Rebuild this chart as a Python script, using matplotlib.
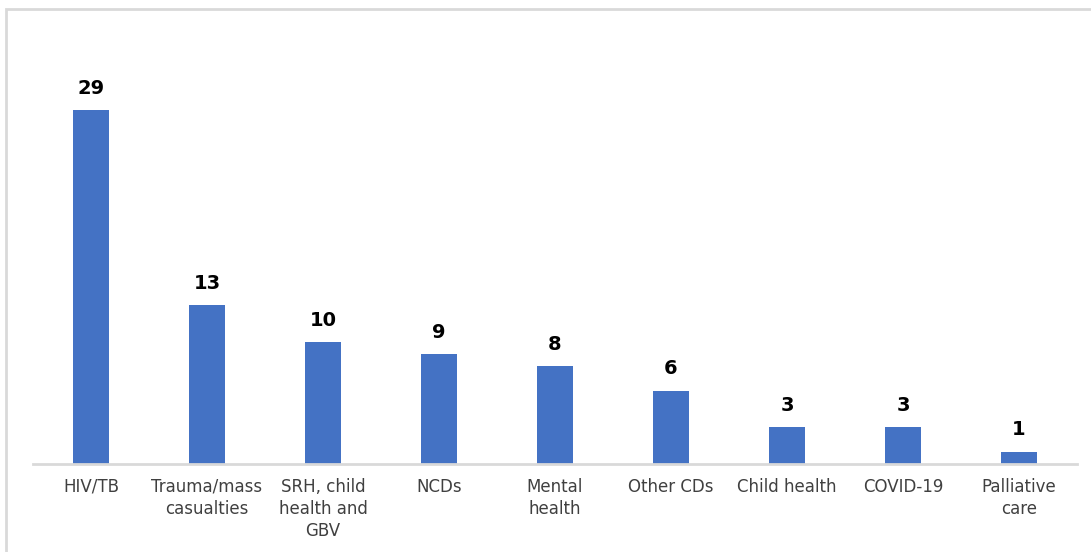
import matplotlib
matplotlib.use("Agg")
import matplotlib.pyplot as plt
from matplotlib.patches import Rectangle

categories = ["HIV/TB", "Trauma/mass\ncasualties", "SRH, child\nhealth and\nGBV", "NCDs",
              "Mental\nhealth", "Other CDs", "Child health", "COVID-19", "Palliative\ncare"]
values = [29, 13, 10, 9, 8, 6, 3, 3, 1]

plt.rcParams['font.family'] = ['DejaVu Sans']

W, H = 1091, 552
fig = plt.figure(figsize=(W / 100, H / 100), dpi=100)
fig.patch.set_facecolor("white")

# chart border
fig.patches.append(Rectangle((6 / W, -0.05), 1.1, (H - 9) / H + 0.05, transform=fig.transFigure,
                             fill=False, edgecolor="#D9D9D9", linewidth=2))

left, right = 33, 1077
base_y, top_y = 464, 49.2
ax = fig.add_axes([left / W, (H - base_y) / H, (right - left) / W, (base_y - top_y) / H])

x = list(range(len(categories)))
ax.bar(x, values, width=0.31, color="#4472C4")
ax.set_xlim(-0.5, len(categories) - 0.5)
ax.set_ylim(0, 34)

for xi, v in zip(x, values):
    ax.annotate(str(v), (xi, v), xytext=(0, 9), textcoords="offset points",
                ha="center", va="bottom", fontsize=14, fontweight="bold", color="black")

ax.set_xticks(x)
ax.set_xticklabels(categories, fontsize=12, color="#404040", linespacing=1.3, va="top")
ax.tick_params(axis="x", length=0, pad=10)
ax.set_yticks([])
for s in ["left", "right", "top"]:
    ax.spines[s].set_visible(False)
ax.spines["bottom"].set_color("#D9D9D9")
ax.spines["bottom"].set_linewidth(2)
ax.set_facecolor("none")

fig.savefig("out.png", dpi=100)
